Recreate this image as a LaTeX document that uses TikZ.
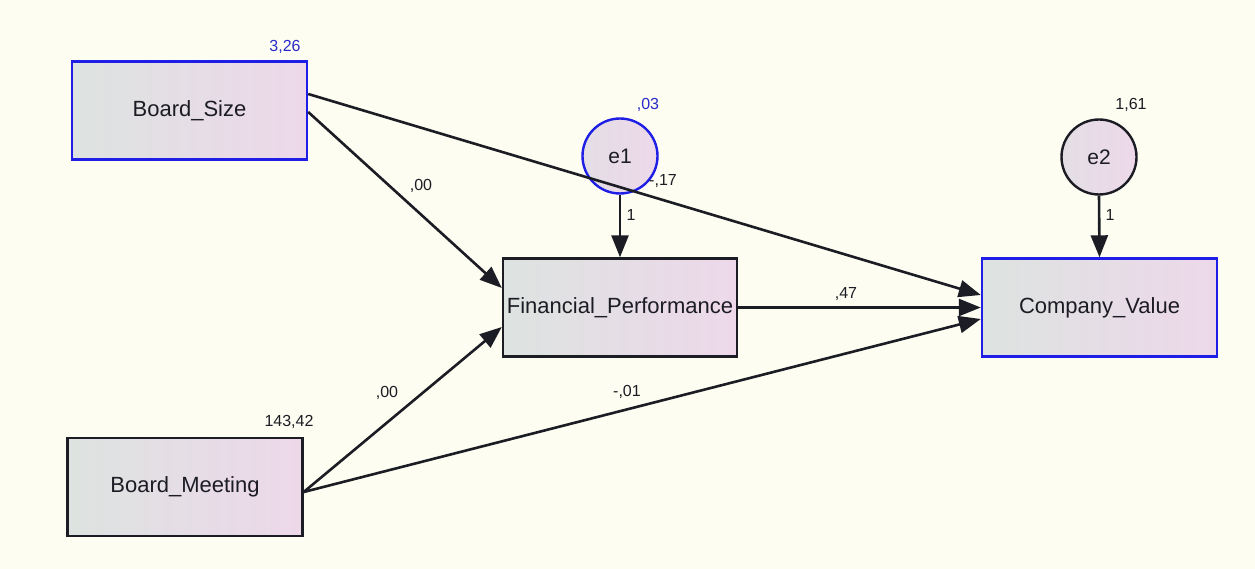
\documentclass[tikz,border=0pt]{standalone}
\usepackage{fontspec}
\setmainfont{Liberation Sans}
\usetikzlibrary{arrows.meta}
\definecolor{bgcream}{HTML}{FDFDF2}
\definecolor{boxleft}{HTML}{DDE3E0}
\definecolor{boxright}{HTML}{EDD8EA}
\definecolor{edgeblue}{HTML}{1E1EE6}
\definecolor{numblue}{HTML}{2A2AC8}
\definecolor{inkdark}{HTML}{1C1C24}
\tikzset{
  obsvar/.style={rectangle, minimum width=235pt, minimum height=98pt, inner sep=0pt,
    left color=boxleft, right color=boxright, line width=2.4pt,
    font=\fontsize{22}{24}\selectfont, text=inkdark},
  errvar/.style={circle, minimum size=75pt, inner sep=0pt,
    left color=boxleft!60!boxright, right color=boxright, line width=2.4pt,
    font=\fontsize{21}{24}\selectfont, text=inkdark},
  path/.style={line width=2.6pt, draw=inkdark, -{Triangle[length=22pt,width=17pt]}},
  est/.style={font=\fontsize{16}{18}\selectfont, text=inkdark, inner sep=0pt},
  estblue/.style={est, text=numblue}
}
\begin{document}
\begin{tikzpicture}[x=1pt,y=-1pt]
  \fill[bgcream] (0,0) rectangle (1255,569);
  \useasboundingbox (0,0) rectangle (1255,569);

  % observed variables
  \node[obsvar, draw=edgeblue] (bs) at (189.5,110.5) {Board\_Size};
  \node[obsvar, draw=inkdark]  (bm) at (185,487) {Board\_Meeting};
  \node[obsvar, draw=inkdark, minimum width=234pt] (fp) at (620,307.5) {Financial\_Performance};
  \node[obsvar, draw=edgeblue] (cv) at (1099.5,307.5) {Company\_Value};

  % error terms
  \node[errvar, draw=edgeblue] (e1) at (620,156) {e1};
  \node[errvar, draw=inkdark]  (e2) at (1099,157) {e2};

  % regression paths
  \draw[path] ([yshift=-1.5pt]bs.east) -- ([yshift=19.5pt]fp.west);
  \draw[path] ([yshift=16.5pt]bs.east) -- ([yshift=12.5pt]cv.west);
  \draw[path] ([yshift=-5pt]bm.east) -- ([yshift=-19.5pt]fp.west);
  \draw[path] ([yshift=-5pt]bm.east) -- ([yshift=-11.5pt]cv.west);
  \draw[path] (fp.east) -- (cv.west);
  \draw[path] (e1.south) -- (fp.north);
  \draw[path] (e2.south) -- (cv.north);

  % estimates
  \node[estblue] (v1) at (285,47) {3,26};
  \node[est] (v2) at (289,422) {143,42};
  \node[estblue] (v3) at (648,105) {,03};
  \node[est] (v4) at (1131,105) {1,61};
  \node[est] (w1) at (421,186) {,00};
  \node[est] (w2) at (387,393) {,00};
  \node[est] (w3) at (663,181) {-,17};
  \node[est] (w4) at (627,392) {-,01};
  \node[est] (w5) at (846,294) {,47};
  \node[est] (w6) at (631,215) {1};
  \node[est] (w7) at (1110,215) {1};
\end{tikzpicture}
\end{document}
